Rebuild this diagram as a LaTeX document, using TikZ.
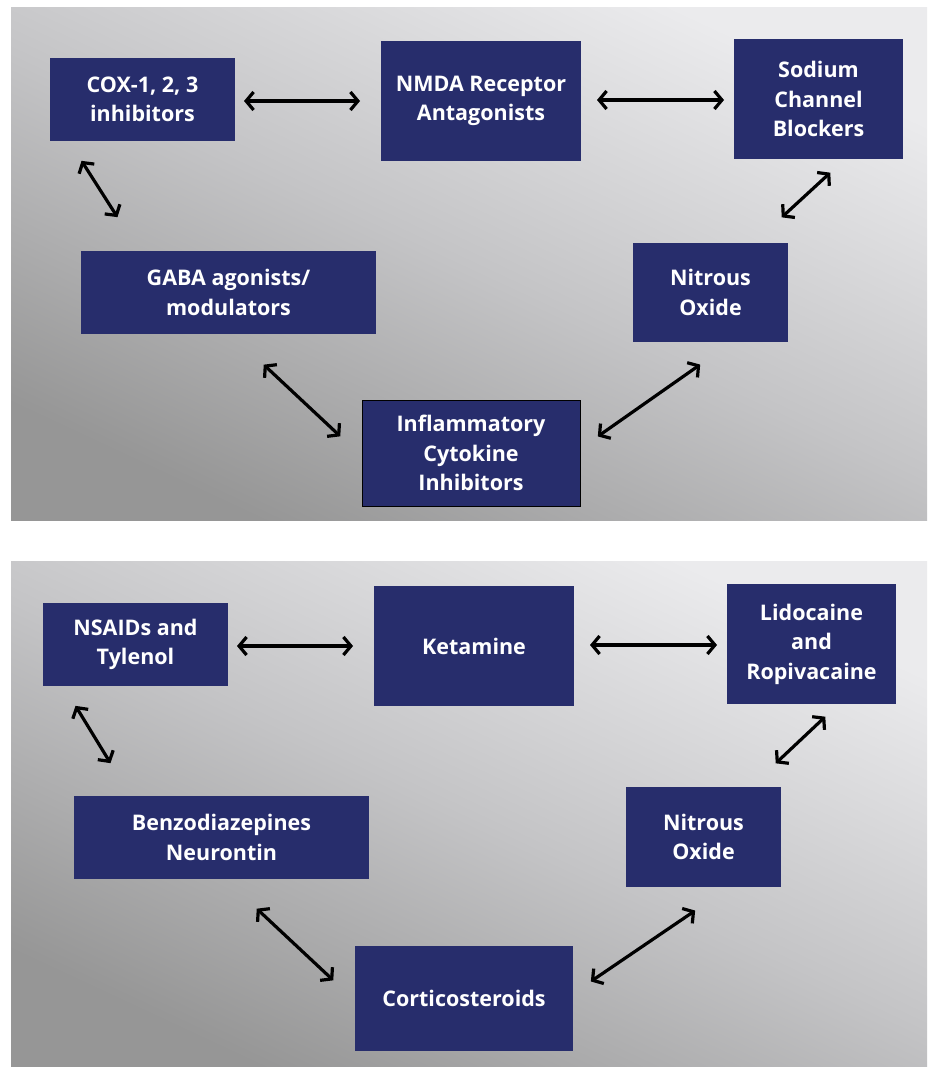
\documentclass[tikz,border=0pt]{standalone}
\usepackage{fontspec}
\setmainfont{Open Sans}
\usetikzlibrary{arrows.meta}
\definecolor{boxblue}{RGB}{39,45,108}
\definecolor{bglight}{RGB}{235,235,237}
\definecolor{bgmid}{RGB}{196,196,198}
\definecolor{bgdark}{RGB}{150,150,150}
\tikzset{
  panel/.style={shading=axis, top color=bglight, bottom color=bgdark, middle color=bgmid, shading angle=-25},
  drug/.style={fill=boxblue, text=white, align=center, inner sep=0pt,
    font=\fontsize{21.5}{29.5}\selectfont\bfseries},
  link/.style={line width=3.2pt, {Straight Barb[length=7.5pt,width=18pt]}-{Straight Barb[length=7.5pt,width=18pt]}, shorten <=1pt, shorten >=1pt}
}
\begin{document}
\begin{tikzpicture}[x=1pt,y=-1pt]
\useasboundingbox (0,0) rectangle (931,1067);
\fill[white] (0,0) rectangle (931,1067);
\shade[panel] (11,8) rectangle (927,520);
\shade[panel] (11,561) rectangle (927,1066);

% top panel
\node[drug, minimum width=185pt, minimum height=83pt] (cox) at (142.5,99.5) {COX-1, 2, 3\\inhibitors};
\node[drug, minimum width=200pt, minimum height=120pt] (nmda) at (481,101) {NMDA Receptor\\Antagonists};
\node[drug, minimum width=169pt, minimum height=120pt] (sod) at (818.5,99) {Sodium\\Channel\\Blockers};
\node[drug, minimum width=295pt, minimum height=83pt] (gaba) at (228.5,292.5) {GABA agonists/\\modulators};
\node[drug, minimum width=155pt, minimum height=99pt] (nit) at (710.5,292.5) {Nitrous\\Oxide};
\node[drug, draw=black, line width=0.8pt, minimum width=218pt, minimum height=106pt] (infl) at (471,453) {Inflammatory\\Cytokine\\Inhibitors};

\coordinate (c1a) at (243,101); \coordinate (c1b) at (361,101);
\coordinate (c2a) at (596,100); \coordinate (c2b) at (725,100);
\coordinate (c3a) at (81,160);  \coordinate (c3b) at (118,218);
\coordinate (c4a) at (831,172); \coordinate (c4b) at (781,218);
\coordinate (c5a) at (263,364); \coordinate (c5b) at (341,437);
\coordinate (c6a) at (701,364); \coordinate (c6b) at (597,437);
\draw[link] (c1a) -- (c1b);
\draw[link] (c2a) -- (c2b);
\draw[link] (c3a) -- (c3b);
\draw[link] (c4a) -- (c4b);
\draw[link] (c5a) -- (c5b);
\draw[link] (c6a) -- (c6b);

% bottom panel
\node[drug, minimum width=185pt, minimum height=83pt] (nsaid) at (135.5,644.5) {NSAIDs and\\Tylenol};
\node[drug, minimum width=200pt, minimum height=120pt] (ket) at (474,646) {Ketamine};
\node[drug, minimum width=169pt, minimum height=120pt] (lido) at (811.5,644) {Lidocaine\\and\\Ropivacaine};
\node[drug, minimum width=295pt, minimum height=83pt] (benzo) at (221.5,837.5) {Benzodiazepines\\Neurontin};
\node[drug, minimum width=155pt, minimum height=100pt] (nit2) at (703.5,837) {Nitrous\\Oxide};
\node[drug, minimum width=218pt, minimum height=105pt] (cort) at (464,998.5) {Corticosteroids};

\coordinate (d1a) at (236,646); \coordinate (d1b) at (354,646);
\coordinate (d2a) at (589,645); \coordinate (d2b) at (718,645);
\coordinate (d3a) at (75,705);  \coordinate (d3b) at (111,764);
\coordinate (d4a) at (826,716); \coordinate (d4b) at (775,764);
\coordinate (d5a) at (256,908); \coordinate (d5b) at (334,981);
\coordinate (d6a) at (696,910); \coordinate (d6b) at (590,982);
\draw[link] (d1a) -- (d1b);
\draw[link] (d2a) -- (d2b);
\draw[link] (d3a) -- (d3b);
\draw[link] (d4a) -- (d4b);
\draw[link] (d5a) -- (d5b);
\draw[link] (d6a) -- (d6b);
\end{tikzpicture}
\end{document}
